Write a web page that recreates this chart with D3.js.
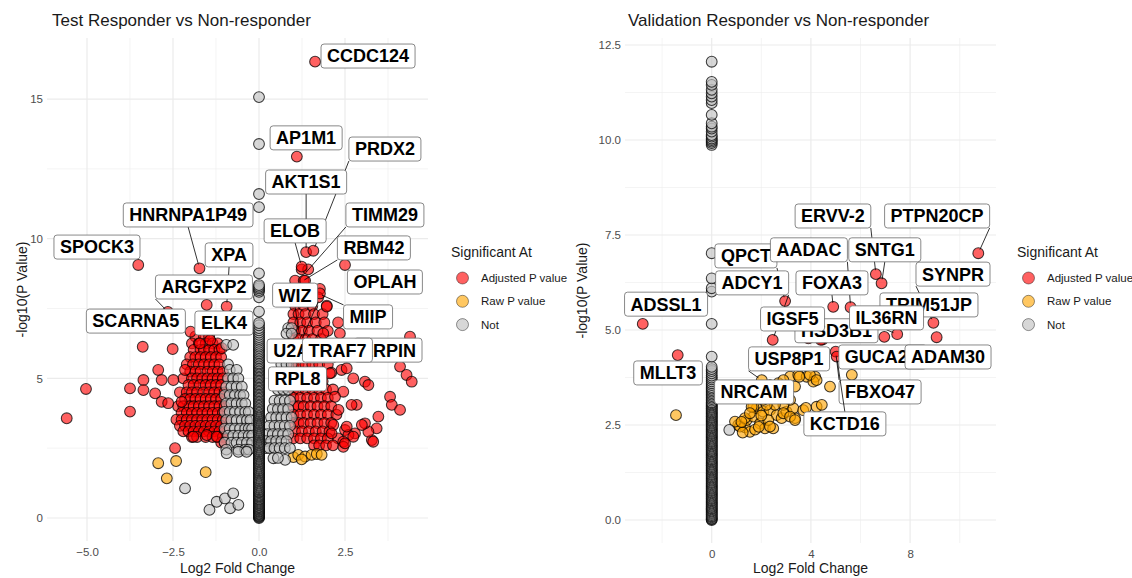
<!DOCTYPE html>
<html>
<head>
<meta charset="utf-8">
<script src="https://cdn.jsdelivr.net/npm/d3@7/dist/d3.min.js"></script>
<style>
    body { margin: 0; background: #fff; }
    text { font-family: "Liberation Sans", Arial, sans-serif; }
</style>
</head>
<body>
<div id="chart"></div>
<script>
// ---------- data ----------
const categories = ["Adjusted P value", "Raw P value", "Not"];
const legendTitle = "Significant At";

// Test panel
const testXTicks = [-5, -2.5, 0, 2.5];
const testYTicks = [0, 5, 10, 15];

// dense rows: [ -log10 p, [log2 fold changes] ]
const testAdjustedRows = [
    [6.5, [-1.85, -1.6, -1.45]],
    [6.25, [-1.95, -1.75, -1.55, -1.35, -1.2]],
    [6.02, [-1.9, -1.7, -1.6, -1.45, -1.3, -1.15]],
    [5.76, [-2.0, -1.85, -1.7, -1.55, -1.4, -1.25, -1.1]],
    [5.5, [-2.1, -1.92, -1.75, -1.6, -1.45, -1.3, -1.15]],
    [5.24, [-2.0, -1.85, -1.7, -1.5, -1.35, -1.2, -1.05]],
    [5.0, [-2.2, -1.95, -1.8, -1.65, -1.5, -1.35, -1.2, -1.05]],
    [4.76, [-2.05, -1.9, -1.72, -1.55, -1.4, -1.25, -1.1]],
    [4.5, [-2.3, -2.1, -1.95, -1.8, -1.62, -1.45, -1.3, -1.15, -1.0]],
    [4.26, [-2.15, -2.0, -1.85, -1.7, -1.55, -1.4, -1.25, -1.1]],
    [4.0, [-2.35, -2.2, -2.02, -1.9, -1.75, -1.6, -1.45, -1.3, -1.15, -1.0]],
    [3.76, [-2.25, -2.1, -1.95, -1.8, -1.65, -1.5, -1.35, -1.2, -1.05]],
    [3.52, [-2.4, -2.25, -2.1, -1.95, -1.8, -1.65, -1.5, -1.35, -1.2, -1.05, -0.95]],
    [3.3, [-2.3, -2.15, -2.0, -1.85, -1.7, -1.55, -1.4, -1.25, -1.1]],
    [3.1, [-2.2, -2.05, -1.9, -1.75, -1.6, -1.45, -1.3, -1.15, -1.0]],
    [2.9, [-1.95, -1.8, -1.55, -1.35, -1.2, -1.05]],
    [2.7, [-1.1, -1.0]],
    [8.9, [1.24, 1.43]],
    [8.5, [1.05, 1.3, 1.34]],
    [8.2, [1.14, 1.77]],
    [7.9, [1.0, 1.2, 1.45, 1.72]],
    [7.6, [1.05, 1.3, 1.55, 1.97]],
    [7.3, [1.0, 1.15, 1.35, 1.6, 1.85]],
    [7.0, [1.0, 1.2, 1.4, 1.65, 1.9, 2.3]],
    [6.7, [1.05, 1.25, 1.45, 1.7, 2.0]],
    [6.4, [1.0, 1.15, 1.35, 1.55, 1.8]],
    [6.1, [1.0, 1.2, 1.4, 1.6, 1.85, 2.05]],
    [5.8, [1.05, 1.25, 1.45, 1.65, 1.9]],
    [5.5, [1.0, 1.15, 1.35, 1.55, 1.75, 2.0]],
    [5.2, [1.0, 1.2, 1.4, 1.6, 1.8, 2.1]],
    [4.9, [1.05, 1.25, 1.45, 1.65, 1.85]],
    [4.6, [1.0, 1.15, 1.35, 1.55, 1.75, 1.95, 2.15]],
    [4.3, [1.0, 1.2, 1.4, 1.6, 1.8, 2.0]],
    [4.0, [1.0, 1.15, 1.3, 1.5, 1.7, 1.9, 2.1]],
    [3.7, [1.0, 1.2, 1.4, 1.6, 1.8, 2.0, 2.25]],
    [3.4, [1.0, 1.15, 1.3, 1.5, 1.7, 1.9, 2.1]],
    [3.1, [1.05, 1.25, 1.45, 1.65, 1.85, 2.05]],
    [2.85, [1.0, 1.2, 1.4, 1.6, 1.8, 2.0, 2.3]],
    [2.6, [1.6, 1.75, 1.95, 2.15]]
];
const testAdjustedPoints = [
    [-5.59, 3.57], [-5.03, 4.62], [-3.75, 3.81], [-3.75, 4.64], [-3.36, 4.94], [-3.36, 4.58],
    [-3.38, 6.13], [-2.93, 5.3], [-2.83, 4.94], [-3.02, 4.46], [-2.83, 4.16], [-2.64, 4.11],
    [-2.49, 4.94], [-2.51, 6.05], [-2.25, 4.16], [-2.15, 5.3], [-2.44, 2.5], [-1.52, 7.63],
    [-0.94, 7.57], [-1.99, 6.67], [-1.42, 6.37], [-1.08, 6.08], [-1.72, 6.25], [-3.51, 9.06],
    [-1.73, 8.94], [-1.91, 2.91], [-1.52, 2.97], [-1.23, 2.91], [-2.65, 7.38],
    [1.63, 16.34], [1.10, 12.94], [1.37, 9.52], [1.58, 9.57], [2.5, 9.06], [1.24, 9.0],
    [1.77, 8.04], [1.97, 7.57], [4.39, 6.49], [4.1, 5.42], [4.29, 5.12], [4.44, 4.88],
    [3.81, 4.34], [3.86, 4.05], [4.1, 3.87], [3.47, 3.63], [3.42, 3.21], [3.28, 2.79],
    [3.18, 3.09], [3.08, 3.39], [2.99, 3.33], [2.79, 3.03], [3.08, 4.88], [3.18, 4.76],
    [2.84, 4.05], [2.69, 4.05], [2.45, 4.52], [2.74, 5.0], [2.4, 5.3], [2.35, 6.61],
    [2.21, 4.34], [2.31, 3.87], [2.5, 3.15], [2.6, 2.97], [2.74, 2.91], [2.45, 2.73],
    [2.45, 2.55], [2.16, 3.33], [2.11, 3.03], [1.92, 6.13], [1.87, 6.61], [2.06, 5.18],
    [3.32, 2.73], [2.55, 5.36], [2.55, 3.27], [2.5, 2.67]
];
const testRawPoints = [
    [-2.93, 1.96], [-2.41, 2.04], [-2.68, 1.42], [-1.55, 1.64],
    [1.0, 2.18], [1.14, 2.26], [1.34, 2.2], [1.53, 2.26], [1.68, 2.29], [1.82, 2.26], [1.24, 2.1]
];
const testNotRows = [
    [6.8, [-0.8, 0.85, 0.95]],
    [6.6, [0.8, 0.95]],
    [6.2, [-0.95, -0.75, 0.75, 0.9]],
    [5.8, [0.7, 0.85]],
    [5.5, [-0.9, 0.65, 0.8, 0.95]],
    [5.3, [-0.85, -0.65]],
    [5.0, [-0.9, -0.75, -0.6, 0.6, 0.75, 0.9]],
    [4.7, [-0.95, -0.8, -0.65, -0.5]],
    [4.6, [0.55, 0.7, 0.85]],
    [4.4, [-1.0, -0.85, -0.7, -0.55, -0.45]],
    [4.2, [0.45, 0.6, 0.75, 0.9]],
    [4.1, [-0.95, -0.8, -0.65, -0.5, -0.4]],
    [3.9, [0.4, 0.55, 0.7, 0.85]],
    [3.8, [-1.0, -0.85, -0.7, -0.55, -0.4, -0.3]],
    [3.6, [0.35, 0.5, 0.65, 0.8, 0.95]],
    [3.5, [-0.95, -0.8, -0.65, -0.5, -0.35, -0.25]],
    [3.3, [0.3, 0.45, 0.6, 0.75, 0.9]],
    [3.2, [-1.0, -0.85, -0.7, -0.55, -0.4, -0.3, -0.2]],
    [3.0, [0.25, 0.4, 0.55, 0.7, 0.85]],
    [2.95, [-0.9, -0.75, -0.6, -0.45, -0.3, -0.2]],
    [2.75, [0.2, 0.35, 0.5, 0.65, 0.8]],
    [2.7, [-1.0, -0.8, -0.65, -0.5, -0.35, -0.2]],
    [2.5, [0.2, 0.3, 0.45, 0.6, 0.75, 0.9]],
    [2.45, [-0.95, -0.6, -0.4, -0.3]]
];
const testNotPoints = [
    [-2.15, 1.06], [-1.44, 0.29], [-1.23, 0.58], [-0.99, 0.7], [-0.75, 0.88], [-0.84, 0.35],
    [-0.6, 0.47], [-0.6, 2.37], [-0.94, 2.32], [-0.36, 2.37], [0.42, 2.14], [0.76, 2.08], [0.55, 2.15]
];
// genes with zero fold change (the column at x = 0)
const testZeroFC = [0, .02, .05, .07, .1, .13, .16, .19, .22, .25, .28, .31, .35, .38, .41, .45,
    .48, .52, .55, .59, .62, .66, .69, .73, .77, .8, .84, .88, .92, .95, .99, 1.03, 1.07, 1.11,
    1.15, 1.19, 1.23, 1.27, 1.31, 1.35, 1.39, 1.43, 1.47, 1.51, 1.55, 1.59, 1.63, 1.67, 1.71, 1.75,
    1.79, 1.83, 1.87, 1.91, 1.95, 1.99, 2.03, 2.07, 2.11, 2.15, 2.19, 2.23, 2.27, 2.31, 2.35, 2.39,
    2.43, 2.47, 2.51, 2.55, 2.59, 2.63, 2.67, 2.71, 2.75, 2.79, 2.83, 2.87, 2.91, 2.95, 2.99, 3.03,
    3.07, 3.11, 3.15, 3.19, 3.23, 3.27, 3.31, 3.35, 3.39, 3.43, 3.47, 3.51, 3.55, 3.59, 3.63, 3.67,
    3.71, 3.75, 3.79, 3.83, 3.87, 3.91, 3.95, 3.99, 4.04, 4.09, 4.14, 4.19, 4.24, 4.29, 4.34, 4.39,
    4.44, 4.49, 4.54, 4.59, 4.64, 4.69, 4.74, 4.79, 4.84, 4.89, 4.94, 4.99, 5.04, 5.09, 5.14, 5.19,
    5.24, 5.29, 5.34, 5.39, 5.44, 5.49, 5.54, 5.6, 5.66, 5.72, 5.78, 5.84, 5.9, 5.96, 6.02, 6.08,
    6.14, 6.2, 6.27, 6.34, 6.41, 6.48, 6.56, 6.64, 6.72, 6.8, 6.9, 6.98, 7.39, 7.9, 8.1, 8.16,
    8.22, 8.28, 8.34, 8.76, 11.13, 11.6, 13.39, 15.07];

// gene labels: point (x, y) and label centre (lx, ly)
const testLabels = [
    {gene: "CCDC124", x: 1.63, y: 16.34, lx: 3.17, ly: 16.54, seg: false},
    {gene: "AP1M1", x: 1.10, y: 12.94, lx: 1.37, ly: 13.61, seg: false},
    {gene: "PRDX2", x: 1.58, y: 9.57, lx: 3.66, ly: 13.21, seg: true},
    {gene: "AKT1S1", x: 1.37, y: 9.52, lx: 1.37, ly: 12.03, seg: true},
    {gene: "TIMM29", x: 1.30, y: 8.7, lx: 3.66, ly: 10.85, seg: true},
    {gene: "ELOB", x: 1.24, y: 9.0, lx: 1.05, ly: 10.28, seg: true},
    {gene: "RBM42", x: 1.22, y: 8.45, lx: 3.34, ly: 9.67, seg: true},
    {gene: "HNRNPA1P49", x: -1.73, y: 8.94, lx: -2.06, ly: 10.85, seg: true},
    {gene: "SPOCK3", x: -3.51, y: 9.06, lx: -4.71, ly: 9.7, seg: false},
    {gene: "XPA", x: -0.94, y: 7.57, lx: -0.87, ly: 9.42, seg: true},
    {gene: "ARGFXP2", x: -2.65, y: 7.38, lx: -1.6, ly: 8.27, seg: true},
    {gene: "OPLAH", x: 2.5, y: 9.06, lx: 3.66, ly: 8.45, seg: false},
    {gene: "SCARNA5", x: -1.99, y: 6.67, lx: -3.58, ly: 7.05, seg: false},
    {gene: "ELK4", x: -1.42, y: 6.37, lx: -1.02, ly: 6.98, seg: false},
    {gene: "WIZ", x: 1.19, y: 6.44, lx: 1.05, ly: 7.98, seg: true},
    {gene: "MIIP", x: 1.72, y: 8.04, lx: 3.17, ly: 7.2, seg: true},
    {gene: "U2AF1", x: 1.15, y: 5.6, lx: 1.24, ly: 5.98, seg: false},
    {gene: "ARPIN", x: 4.44, y: 6.49, lx: 3.75, ly: 6.01, seg: false},
    {gene: "TRAF7", x: 1.77, y: 7.88, lx: 2.28, ly: 6.01, seg: true},
    {gene: "RPL8", x: 1.1, y: 5.5, lx: 1.12, ly: 4.98, seg: false}
];

// Validation panel
const valXTicks = [0, 4, 8];
const valYTicks = [0, 2.5, 5, 7.5, 10, 12.5];

const valAdjustedPoints = [
    [-2.78, 5.16], [-1.37, 4.34], [2.96, 5.76], [2.46, 4.74], [4.9, 5.61], [5.6, 5.6],
    [6.62, 6.47], [6.85, 6.23], [10.75, 7.02], [8.94, 5.19], [9.07, 4.81], [7.48, 4.89],
    [6.96, 4.82], [6.11, 4.91], [3.9, 4.78], [4.47, 4.75], [5.0, 4.43], [5.04, 4.3],
    [4.4, 4.74], [2.4, 4.08]
];
const valRawPoints = [
    [1.07, 2.5], [1.34, 2.44], [1.54, 2.32], [1.41, 2.63], [1.68, 2.72], [1.95, 2.54], [2.15, 2.41],
    [2.48, 2.41], [1.81, 2.94], [2.08, 2.85], [2.35, 2.89], [2.62, 2.76], [2.82, 2.68], [3.02, 2.85],
    [3.36, 2.68], [3.29, 2.94], [3.69, 2.89], [4.23, 2.98], [4.44, 3.03], [3.16, 3.16], [2.89, 3.03],
    [2.55, 3.03], [2.22, 3.03], [1.68, 2.98], [3.16, 3.77], [3.49, 3.82], [3.83, 3.77], [4.17, 3.77],
    [4.1, 3.64], [3.36, 3.51], [3.02, 3.42], [4.77, 3.51], [5.65, 3.82], [2.28, 2.63], [2.48, 3.42],
    [2.69, 3.6], [2.89, 3.68], [3.53, 3.77], [3.96, 3.82], [4.23, 3.68], [2.08, 3.16], [1.61, 2.98],
    [2.89, 2.81], [3.16, 2.72], [3.36, 2.63], [2.35, 2.46], [1.14, 2.46], [0.94, 2.59], [1.34, 2.68],
    [1.54, 2.81], [1.81, 3.24], [2.15, 3.29], [2.35, 3.55], [2.02, 3.68], [1.25, 2.3], [1.75, 2.38],
    [2.0, 2.75], [2.6, 3.25], [3.8, 2.95], [1.9, 2.45], [1.2, 2.58], [-1.44, 2.76]
];
const valNotPoints = [[0.71, 2.37]];
const valZeroFC = [0, .02, .04, .07, .1, .13, .16, .19, .22, .25, .28, .31, .34, .37, .4, .43, .46,
    .49, .52, .55, .58, .61, .64, .67, .7, .73, .76, .79, .82, .85, .88, .91, .94, .97, 1, 1.03,
    1.06, 1.09, 1.12, 1.15, 1.18, 1.21, 1.24, 1.27, 1.3, 1.33, 1.36, 1.39, 1.42, 1.45, 1.48, 1.51,
    1.54, 1.57, 1.6, 1.63, 1.66, 1.69, 1.72, 1.75, 1.78, 1.81, 1.84, 1.87, 1.9, 1.93, 1.96, 1.99,
    2.02, 2.05, 2.08, 2.11, 2.14, 2.17, 2.2, 2.23, 2.26, 2.29, 2.32, 2.35, 2.38, 2.41, 2.44, 2.47,
    2.5, 2.53, 2.56, 2.59, 2.62, 2.65, 2.68, 2.71, 2.74, 2.77, 2.8, 2.83, 2.86, 2.89, 2.92, 2.95,
    2.98, 3.01, 3.04, 3.07, 3.1, 3.14, 3.18, 3.22, 3.26, 3.3, 3.34, 3.38, 3.42, 3.46, 3.5, 3.55,
    3.6, 3.65, 3.7, 3.75, 3.8, 3.86, 3.92, 3.97, 4.03, 4.3, 5.16, 6.01, 6.1, 6.36, 7.02, 9.87,
    9.92, 9.96, 10.0, 10.04, 10.09, 10.13, 10.22, 10.3, 10.35, 10.44, 10.66, 10.97, 11.05, 11.14,
    11.23, 11.32, 11.45, 11.53, 12.06];

const valLabels = [
    {gene: "ERVV-2", x: 6.62, y: 6.47, lx: 4.89, ly: 8.0, seg: true},
    {gene: "PTPN20CP", x: 10.75, y: 7.02, lx: 9.09, ly: 8.0, seg: true},
    {gene: "QPCT", x: 2.96, y: 5.76, lx: 1.38, ly: 6.95, seg: true},
    {gene: "AADAC", x: 5.6, y: 5.6, lx: 3.92, ly: 7.11, seg: true},
    {gene: "SNTG1", x: 6.85, y: 6.23, lx: 6.98, ly: 7.11, seg: true},
    {gene: "FOXA3", x: 4.9, y: 5.61, lx: 4.85, ly: 6.24, seg: true},
    {gene: "ADCY1", x: 2.46, y: 4.74, lx: 1.63, ly: 6.24, seg: true},
    {gene: "ADSSL1", x: -2.78, y: 5.16, lx: -1.84, ly: 5.68, seg: false},
    {gene: "SYNPR", x: 8.94, y: 5.19, lx: 9.73, ly: 6.47, seg: true},
    {gene: "TRIM51JP", x: 9.07, y: 4.81, lx: 8.76, ly: 5.66, seg: false},
    {gene: "HSD3B1", x: 4.47, y: 4.75, lx: 5.03, ly: 4.98, seg: false},
    {gene: "IGSF5", x: 3.9, y: 4.78, lx: 3.26, ly: 5.29, seg: false},
    {gene: "IL36RN", x: 7.48, y: 4.89, lx: 7.05, ly: 5.32, seg: true},
    {gene: "GUCA2A", x: 5.0, y: 4.43, lx: 6.9, ly: 4.29, seg: false},
    {gene: "ADAM30", x: 9.07, y: 4.81, lx: 9.53, ly: 4.29, seg: false},
    {gene: "USP8P1", x: 2.02, y: 3.68, lx: 3.12, ly: 4.24, seg: true},
    {gene: "MLLT3", x: -1.37, y: 4.34, lx: -1.76, ly: 3.87, seg: false},
    {gene: "NRCAM", x: 1.5, y: 3.0, lx: 1.71, ly: 3.37, seg: false},
    {gene: "FBXO47", x: 5.0, y: 4.43, lx: 6.79, ly: 3.37, seg: true},
    {gene: "KCTD16", x: 5.04, y: 4.3, lx: 5.37, ly: 2.53, seg: true}
];

// ---------- helpers ----------
function fromRows(rows) {
    let out = [];
    rows.forEach(r => r[1].forEach(x => out.push([x, r[0]])));
    return out;
}

const catFill = {"Adjusted P value": "#ff0000", "Raw P value": "#ffa500", "Not": "#bebebe"};

class VolcanoVis {
    constructor(svg, config) {
        this.svg = svg;
        this.config = config;
        this.initVis();
    }

    initVis() {
        let vis = this;
        let c = vis.config;

        vis.x = d3.scaleLinear().domain(c.xDomain).range([c.left, c.right]);
        vis.y = d3.scaleLinear().domain(c.yDomain).range([c.bottom, c.top]);

        vis.g = vis.svg.append("g").attr("class", "panel");

        // minor grid
        vis.g.selectAll(".xminor").data(c.xMinor).enter().append("line")
            .attr("x1", d => vis.x(d)).attr("x2", d => vis.x(d))
            .attr("y1", c.top).attr("y2", c.bottom)
            .attr("stroke", "#ededed").attr("stroke-width", 0.6);
        vis.g.selectAll(".yminor").data(c.yMinor).enter().append("line")
            .attr("y1", d => vis.y(d)).attr("y2", d => vis.y(d))
            .attr("x1", c.left).attr("x2", c.right)
            .attr("stroke", "#ededed").attr("stroke-width", 0.6);
        // major grid
        vis.g.selectAll(".xmajor").data(c.xTicks).enter().append("line")
            .attr("x1", d => vis.x(d)).attr("x2", d => vis.x(d))
            .attr("y1", c.top).attr("y2", c.bottom)
            .attr("stroke", "#ebebeb").attr("stroke-width", 1.2);
        vis.g.selectAll(".ymajor").data(c.yTicks).enter().append("line")
            .attr("y1", d => vis.y(d)).attr("y2", d => vis.y(d))
            .attr("x1", c.left).attr("x2", c.right)
            .attr("stroke", "#ebebeb").attr("stroke-width", 1.2);

        // axes (labels only)
        let xAxis = d3.axisBottom(vis.x).tickValues(c.xTicks).tickFormat(c.xFormat).tickSize(0).tickPadding(0);
        let xg = vis.g.append("g").attr("transform", "translate(0," + (c.bottom + 7) + ")").call(xAxis);
        let yAxis = d3.axisLeft(vis.y).tickValues(c.yTicks).tickFormat(c.yFormat).tickSize(0).tickPadding(0);
        let yg = vis.g.append("g").attr("transform", "translate(" + (c.left - 4) + ",0)").call(yAxis);
        [xg, yg].forEach(a => {
            a.select(".domain").remove();
            a.selectAll("text").attr("fill", "#4d4d4d").style("font-size", "11.5px")
                .style("font-family", "'Liberation Sans', Arial, sans-serif");
        });

        // titles
        vis.g.append("text").attr("x", c.titleX).attr("y", 26)
            .text(c.title).attr("fill", "#1a1a1a").style("font-size", "17px");
        vis.g.append("text").attr("x", (c.left + c.right) / 2).attr("y", 573)
            .attr("text-anchor", "middle").text("Log2 Fold Change")
            .attr("fill", "#1a1a1a").style("font-size", "14px");
        vis.g.append("text")
            .attr("transform", "translate(" + c.yTitleX + "," + ((c.top + c.bottom) / 2) + ") rotate(-90)")
            .attr("text-anchor", "middle").attr("dy", "0.35em").text("-log10(P Value)")
            .attr("fill", "#1a1a1a").style("font-size", "14px");

        // points, drawn by category
        let pts = [];
        c.adjusted.forEach(p => pts.push({x: p[0], y: p[1], cat: categories[0]}));
        c.raw.forEach(p => pts.push({x: p[0], y: p[1], cat: categories[1]}));
        c.not.forEach(p => pts.push({x: p[0], y: p[1], cat: categories[2]}));
        c.zero.forEach(v => pts.push({x: 0, y: v, cat: categories[2]}));

        vis.g.append("g").selectAll("circle").data(pts).enter().append("circle")
            .attr("cx", d => vis.x(d.x)).attr("cy", d => vis.y(d.y))
            .attr("r", 5.4)
            .attr("fill", d => catFill[d.cat]).attr("fill-opacity", 0.62)
            .attr("stroke", "black").attr("stroke-opacity", 0.75).attr("stroke-width", 1.05);

        // gene labels
        c.labels.forEach(l => vis.drawLabel(l));

        // legend
        let lg = vis.g.append("g");
        lg.append("text").attr("x", c.legendX).attr("y", 257).text(legendTitle)
            .attr("fill", "#1a1a1a").style("font-size", "14px");
        categories.forEach((cat, i) => {
            let cy = 278 + i * 23.3;
            lg.append("circle").attr("cx", c.legendX + 11.5).attr("cy", cy).attr("r", 6)
                .attr("fill", catFill[cat]).attr("fill-opacity", 0.62)
                .attr("stroke", "black").attr("stroke-opacity", 0.6).attr("stroke-width", 0.7);
            lg.append("text").attr("x", c.legendX + 30).attr("y", cy + 4).text(cat)
                .attr("fill", "#1a1a1a").style("font-size", "11.5px");
        });
    }

    drawLabel(l) {
        let vis = this;
        let px = vis.x(l.x), py = vis.y(l.y);
        let cx = vis.x(l.lx), cy = vis.y(l.ly);
        let g = vis.g.append("g");
        let seg = g.append("line");
        let rect = g.append("rect");
        let t = g.append("text").attr("x", cx).attr("y", cy + 6.4).attr("text-anchor", "middle")
            .text(l.gene).style("font-size", "18px").style("font-weight", "bold").attr("fill", "black");
        let w = t.node().getComputedTextLength();
        let pad = 6, h = 24;
        let box = {x0: cx - w / 2 - pad, x1: cx + w / 2 + pad, y0: cy - h / 2, y1: cy + h / 2};
        rect.attr("x", box.x0).attr("y", box.y0).attr("width", box.x1 - box.x0).attr("height", h)
            .attr("rx", 3).attr("fill", "white").attr("stroke", "#6b6b6b").attr("stroke-width", 0.8);

        if (l.seg) {
            let cands = [];
            [box.x0, cx, box.x1].forEach(sx => [box.y0, cy, box.y1].forEach(sy => {
                if (!(sx === cx && sy === cy)) cands.push([sx, sy]);
            }));
            let s = d3.least(cands, q => (q[0] - px) ** 2 + (q[1] - py) ** 2);
            let dx = px - s[0], dy = py - s[1];
            let len = Math.sqrt(dx * dx + dy * dy);
            let k = len > 5 ? (len - 4) / len : 1;
            seg.attr("x1", s[0]).attr("y1", s[1])
                .attr("x2", s[0] + dx * k).attr("y2", s[1] + dy * k)
                .attr("stroke", "black").attr("stroke-width", 0.8);
        } else {
            seg.remove();
        }
    }
}

// ---------- draw ----------
let svg = d3.select("#chart").append("svg")
    .attr("width", 1132).attr("height", 578)
    .style("background", "white");

new VolcanoVis(svg, {
    title: "Test Responder vs Non-responder",
    left: 47, right: 428, top: 38, bottom: 541,
    xDomain: [-6.163, 4.913], yDomain: [-0.824, 17.186],
    xTicks: testXTicks, yTicks: testYTicks,
    xMinor: [-3.75, -1.25, 1.25, 3.75], yMinor: [2.5, 7.5, 12.5],
    xFormat: d3.format(".1f"), yFormat: d3.format("d"),
    titleX: 52, yTitleX: 22, legendX: 451,
    adjusted: fromRows(testAdjustedRows).concat(testAdjustedPoints),
    raw: testRawPoints,
    not: fromRows(testNotRows).concat(testNotPoints),
    zero: testZeroFC,
    labels: testLabels
});

new VolcanoVis(svg, {
    title: "Validation Responder vs Non-responder",
    left: 625, right: 996, top: 38, bottom: 543,
    xDomain: [-3.496, 11.464], yDomain: [-0.605, 12.684],
    xTicks: valXTicks, yTicks: valYTicks,
    xMinor: [-2, 2, 6, 10], yMinor: [1.25, 3.75, 6.25, 8.75, 11.25],
    xFormat: d3.format("d"), yFormat: d3.format(".1f"),
    titleX: 628, yTitleX: 582, legendX: 1017,
    adjusted: valAdjustedPoints,
    raw: valRawPoints,
    not: valNotPoints,
    zero: valZeroFC,
    labels: valLabels
});
</script>
</body>
</html>
